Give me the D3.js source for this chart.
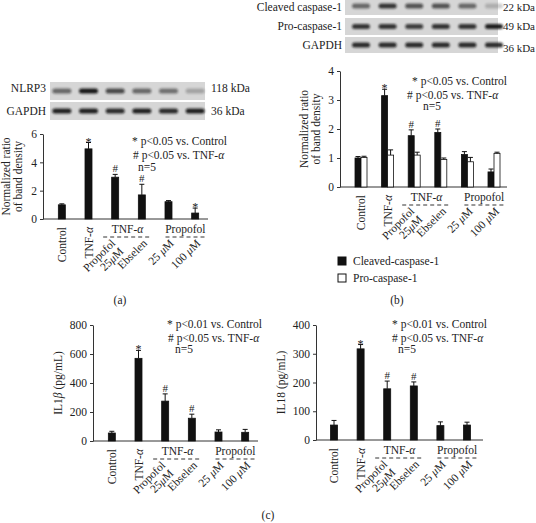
<!DOCTYPE html>
<html>
<head>
<meta charset="utf-8">
<script src="https://cdn.jsdelivr.net/npm/d3@7"></script>
<style>
body { margin: 0; background: #fff; }
text { font-family: "Liberation Serif", "DejaVu Serif", serif; fill: #222; font-size: 11.5px; }
</style>
</head>
<body>
<svg id="svg" width="536" height="523"></svg>
<script>
// categories (same for every panel)
const groups = ['Control', 'TNF-α', 'Propofol 25μM', 'Ebselen', '25 μM', '100 μM'];
const xLabels = [['Control'], ['TNF-α'], ['Propofol', '25μM'], ['Ebselen'], ['25 μM'], ['100 μM']];

// (a) NLRP3
const nlrp3 = [1.0, 4.95, 2.95, 1.7, 1.22, 0.42];
const nlrp3Err = [0.07, 0.45, 0.2, 0.75, 0.08, 0.35];
const nlrp3Marks = ['', '*', '#', '#', '', '*'];
const nlrp3Ticks = [0, 2, 4, 6];

// (b) caspase-1
const cleaved = [1.0, 3.15, 1.77, 1.88, 1.12, 0.52];
const cleavedErr = [0.05, 0.22, 0.2, 0.12, 0.1, 0.1];
const cleavedMarks = ['', '*', '#', '#', '', ''];
const pro = [1.02, 1.1, 1.1, 0.95, 0.87, 1.16];
const proErr = [0.04, 0.18, 0.1, 0.05, 0.15, 0.04];
const caspTicks = [0, 1, 2, 3, 4];

// (c) ELISA
const il1b = [55, 570, 275, 157, 62, 60];
const il1bErr = [12, 55, 50, 28, 15, 20];
const il18 = [52, 317, 178, 188, 50, 52];
const il18Err = [16, 15, 27, 14, 13, 10];
const elisaMarks = ['', '*', '#', '#', '', ''];
const il1bTicks = [0, 200, 400, 600, 800];
const il18Ticks = [0, 100, 200, 300, 400];

// blot band intensities (lane order = groups)
const bandNLRP3 = [0.55, 0.95, 0.7, 0.55, 0.5, 0.25];
const bandGAPDHa = [0.9, 0.9, 0.85, 0.9, 0.85, 0.9];
const bandCleaved = [0.55, 0.8, 0.65, 0.65, 0.55, 0.2];
const bandPro = [0.8, 0.8, 0.75, 0.8, 0.8, 0.9];
const bandGAPDHb = [0.85, 0.85, 0.85, 0.85, 0.85, 0.85];

const svg = d3.select('#svg');
svg.append('rect').attr('width', 536).attr('height', 523).attr('fill', '#fff');

const defs = svg.append('defs');
defs.append('filter').attr('id', 'blur').attr('x', '-30%').attr('y', '-100%').attr('width', '160%').attr('height', '300%')
    .append('feGaussianBlur').attr('stdDeviation', 1.3);

// text with italic greek letters
function richText(sel, str) {
    const parts = str.split(/([α-ωμ])/);
    parts.forEach(p => {
        if (p === '') return;
        const t = sel.append('tspan').text(p);
        if (/[α-ωμ]/.test(p)) t.attr('font-style', 'italic');
    });
    return sel;
}

function blot(x, lanes, y0, h, vals, w) {
    const g = svg.append('g');
    g.append('rect').attr('x', lanes.left).attr('y', y0).attr('width', lanes.right - lanes.left).attr('height', h)
        .attr('fill', '#d6d6d6');
    g.selectAll('rect.band').data(vals).join('rect')
        .attr('class', 'band')
        .attr('x', (d, i) => x(groups[i]) + x.bandwidth() / 2 - w / 2)
        .attr('y', y0 + h / 2 - 2.5)
        .attr('width', w).attr('height', 5).attr('rx', 2.5)
        .attr('fill', '#111').attr('opacity', d => d)
        .attr('filter', 'url(#blur)');
}

function panel(p) {
    const g = svg.append('g');
    const x = d3.scaleBand().domain(groups).range(p.xr);
    const y = d3.scaleLinear().domain([0, p.ymax]).range([p.y0, p.y1]);
    const xc = i => x(groups[i]) + x.bandwidth() / 2;
    const bw = p.bw;
    const n = p.series.length;

    const ax = g.append('g').attr('transform', `translate(${p.ax},0)`)
        .call(d3.axisLeft(y).tickValues(p.ticks).tickFormat(d3.format('d')).tickSize(3).tickPadding(3).tickSizeOuter(0));
    ax.selectAll('text').style('font-size', '11.5px').style('font-family', '"Liberation Serif", serif').attr('fill', '#222');
    ax.selectAll('line,path').attr('stroke', '#333');
    g.append('line').attr('x1', p.ax).attr('x2', p.axEnd).attr('y1', y(0)).attr('y2', y(0)).attr('stroke', '#333');

    p.series.forEach((s, si) => {
        const off = (si - n / 2) * bw;
        const bx = i => xc(i) + off;
        g.selectAll(null).data(s.values).join('rect')
            .attr('x', (d, i) => bx(i)).attr('y', d => y(d))
            .attr('width', bw).attr('height', d => y(0) - y(d))
            .attr('fill', s.fill).attr('stroke', '#111').attr('stroke-width', 0.8);
        const eb = g.selectAll(null).data(s.values).join('g');
        eb.append('line')
            .attr('x1', (d, i) => bx(i) + bw / 2).attr('x2', (d, i) => bx(i) + bw / 2)
            .attr('y1', d => y(d)).attr('y2', (d, i) => y(d + s.err[i]))
            .attr('stroke', '#111');
        eb.append('line')
            .attr('x1', (d, i) => bx(i) + bw / 2 - 2.5).attr('x2', (d, i) => bx(i) + bw / 2 + 2.5)
            .attr('y1', (d, i) => y(d + s.err[i])).attr('y2', (d, i) => y(d + s.err[i]))
            .attr('stroke', '#111');
        if (s.marks) {
            g.selectAll(null).data(s.values).join('text')
                .attr('x', (d, i) => bx(i) + bw / 2)
                .attr('y', (d, i) => y(d + s.err[i]) - (s.marks[i] === '*' ? -3 : 2))
                .attr('text-anchor', 'middle')
                .style('font-size', (d, i) => s.marks[i] === '*' ? '12px' : '11px')
                .attr('fill', (d, i) => s.marks[i] === '*' ? '#777' : '#333')
                .text((d, i) => s.marks[i]);
        }
    });

    // x tick labels
    const base = y(0);
    xLabels.forEach((lab, i) => {
        if (i < 2) {
            richText(g.append('text').attr('text-anchor', 'end')
                .attr('transform', `translate(${xc(i) + 4},${base + 8}) rotate(-90)`), lab[0]);
        } else if (lab.length === 2) {
            const t = g.append('text').attr('text-anchor', 'end')
                .attr('transform', `translate(${xc(i) + 5},${base + 29}) rotate(-45)`);
            richText(t.append('tspan').attr('x', 0).attr('dy', '-0.5em'), lab[0]);
            richText(t.append('tspan').attr('x', 0).attr('dy', '1.0em'), lab[1]);
        } else {
            richText(g.append('text').attr('text-anchor', 'end')
                .attr('transform', `translate(${xc(i) + 6},${base + 25}) rotate(-45)`), lab[0]);
        }
    });
    // group labels with dashed lines
    const grp = [['TNF-α', xc(2) - 12, xc(3) + 10], ['Propofol', xc(4) - 3, xc(5) + 10]];
    grp.forEach(gr => {
        g.append('line').attr('x1', gr[1]).attr('x2', gr[2]).attr('y1', base + 18).attr('y2', base + 18)
            .attr('stroke', '#333').attr('stroke-dasharray', '4,3');
        richText(g.append('text').attr('x', (gr[1] + gr[2]) / 2).attr('y', base + 14).attr('text-anchor', 'middle'), gr[0]);
    });

    // y label
    const yl = g.append('text').attr('text-anchor', 'middle')
        .attr('transform', `translate(${p.ylx},${(p.y0 + p.y1) / 2}) rotate(-90)`);
    p.ylabel.forEach((l, k) => {
        richText(yl.append('tspan').attr('x', 0).attr('dy', k === 0 ? (p.ylabel.length > 1 ? '-0.2em' : '0') : '1.1em'), l);
    });

    // significance notes
    p.notes.forEach(nt => richText(g.append('text').attr('x', nt[0]).attr('y', nt[1]), nt[2]));
    return x;
}

// ---- (a)
const xa = panel({
    xr: [48.5, 208.5], ax: 43, axEnd: 208, y0: 219, y1: 134, ymax: 6, ticks: nlrp3Ticks, bw: 7,
    series: [{ values: nlrp3, err: nlrp3Err, fill: '#111', marks: nlrp3Marks }],
    ylabel: ['Normalized ratio', 'of band density'], ylx: 12,
    notes: [[132, 145, '* p<0.05 vs. Control'], [133, 159, '# p<0.05 vs. TNF-α'], [138, 170.5, 'n=5']]
});
blot(xa, { left: 50, right: 205 }, 82, 18, bandNLRP3, 19);
blot(xa, { left: 50, right: 205 }, 102, 18, bandGAPDHa, 19);
[['NLRP3', 92], ['GAPDH', 115]].forEach(d => svg.append('text').attr('x', 46).attr('y', d[1]).attr('text-anchor', 'end').text(d[0]));
[['118 kDa', 92], ['36 kDa', 115]].forEach(d => svg.append('text').attr('x', 211).attr('y', d[1]).text(d[0]));
svg.append('text').attr('x', 120).attr('y', 304).attr('text-anchor', 'middle').text('(a)');

// ---- (b)
const xb = panel({
    xr: [347.7, 507.3], ax: 340, axEnd: 507, y0: 187, y1: 71, ymax: 4, ticks: caspTicks, bw: 6,
    series: [
        { values: cleaved, err: cleavedErr, fill: '#111', marks: cleavedMarks },
        { values: pro, err: proErr, fill: '#fff' }
    ],
    ylabel: ['Normalized ratio', 'of band density'], ylx: 310,
    notes: [[412, 85, '* p<0.05 vs. Control'], [407, 99, '# p<0.05 vs. TNF-α'], [423, 110, 'n=5']]
});
blot(xb, { left: 345, right: 498 }, -3, 18, bandCleaved, 18);
blot(xb, { left: 345, right: 498 }, 18, 17, bandPro, 18);
blot(xb, { left: 345, right: 498 }, 37, 16, bandGAPDHb, 18);
[['Cleaved caspase-1', 11], ['Pro-caspase-1', 30], ['GAPDH', 49]].forEach(d => svg.append('text').attr('x', 342).attr('y', d[1]).attr('text-anchor', 'end').text(d[0]));
[['22 kDa', 11], ['49 kDa', 30], ['36 kDa', 52]].forEach(d => svg.append('text').attr('x', 535).attr('y', d[1]).attr('text-anchor', 'end').style('font-size', '11px').text(d[0]));
const legend = [['Cleaved-caspase-1', '#111'], ['Pro-caspase-1', '#fff']];
legend.forEach((d, i) => {
    svg.append('rect').attr('x', 338).attr('y', 257 + i * 17).attr('width', 8).attr('height', 8)
        .attr('fill', d[1]).attr('stroke', '#111');
    svg.append('text').attr('x', 353).attr('y', 265 + i * 17).text(d[0]);
});
svg.append('text').attr('x', 397).attr('y', 304).attr('text-anchor', 'middle').text('(b)');

// ---- (c)
panel({
    xr: [98.5, 258.5], ax: 93, axEnd: 258, y0: 441, y1: 325, ymax: 800, ticks: il1bTicks, bw: 7,
    series: [{ values: il1b, err: il1bErr, fill: '#111', marks: elisaMarks }],
    ylabel: ['IL1β (pg/mL)'], ylx: 62,
    notes: [[167, 328, '* p<0.01 vs. Control'], [168, 342, '# p<0.05 vs. TNF-α'], [175, 353, 'n=5']]
});
panel({
    xr: [320.7, 480.3], ax: 316, axEnd: 483, y0: 440, y1: 325, ymax: 400, ticks: il18Ticks, bw: 7,
    series: [{ values: il18, err: il18Err, fill: '#111', marks: elisaMarks }],
    ylabel: ['IL18 (pg/mL)'], ylx: 285,
    notes: [[392, 328, '* p<0.01 vs. Control'], [392, 342, '# p<0.05 vs. TNF-α'], [398, 353, 'n=5']]
});
svg.append('text').attr('x', 268).attr('y', 519).attr('text-anchor', 'middle').text('(c)');
</script>
</body>
</html>
